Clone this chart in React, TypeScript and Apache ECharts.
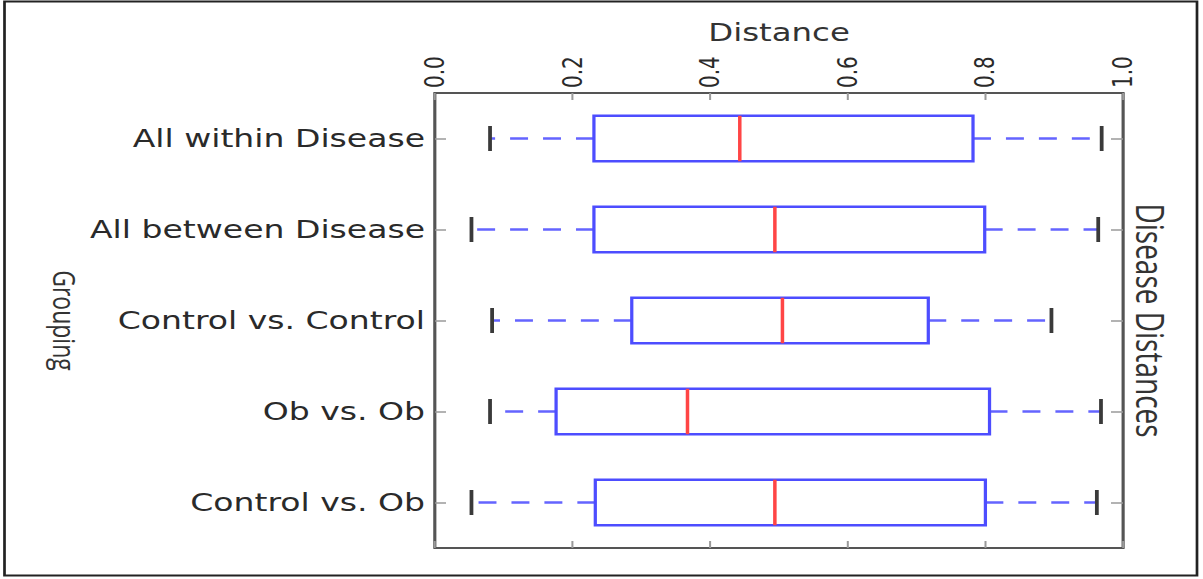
import React, { useEffect, useRef } from "react";
import * as echarts from "echarts";

// ---- data ----
const categories = [
  "All within Disease",
  "All between Disease",
  "Control vs. Control",
  "Ob vs. Ob",
  "Control vs. Ob",
];
const whiskerLow = [0.080, 0.053, 0.083, 0.080, 0.053];
const quartile1 = [0.231, 0.231, 0.286, 0.176, 0.233];
const medians = [0.443, 0.494, 0.505, 0.367, 0.494];
const quartile3 = [0.782, 0.799, 0.717, 0.806, 0.800];
const whiskerHigh = [0.969, 0.964, 0.896, 0.968, 0.962];
const tickLabels = ["0.0", "0.2", "0.4", "0.6", "0.8", "1.0"];

// the reference figure is stretched horizontally
const S = 1.35;
const PAGE_W = 1203;
const PAGE_H = 579;
const W0 = PAGE_W / S;
const px = (x: number) => x / S;

export default function App() {
  const ref = useRef<HTMLDivElement>(null);

  useEffect(() => {
    if (!ref.current) return;
    const chart = echarts.init(ref.current, null, {
      renderer: "svg",
      width: W0,
      height: PAGE_H,
    });

    const data = categories.map((_, i) => [
      i,
      whiskerLow[i],
      quartile1[i],
      medians[i],
      quartile3[i],
      whiskerHigh[i],
    ]);

    const renderItem = (params: any, api: any) => {
      const ci = api.value(0);
      const c = (v: number) => api.coord([v, ci]);
      const band = api.size([0, 1])[1];
      const boxH = band * 0.5;
      const capH = band * 0.275;
      const pLow = c(api.value(1));
      const pQ1 = c(api.value(2));
      const pMed = c(api.value(3));
      const pQ3 = c(api.value(4));
      const pHigh = c(api.value(5));
      const cy = pQ1[1];
      const whiskerStyle = {
        stroke: "#6464ff",
        lineWidth: 2.4,
        lineDash: [13.3, 11.1],
      };
      return {
        type: "group",
        children: [
          {
            type: "line",
            shape: { x1: pQ1[0], y1: cy, x2: pLow[0], y2: cy },
            style: whiskerStyle,
          },
          {
            type: "line",
            shape: { x1: pQ3[0], y1: cy, x2: pHigh[0], y2: cy },
            style: whiskerStyle,
          },
          {
            type: "rect",
            shape: {
              x: pQ1[0],
              y: cy - boxH / 2,
              width: pQ3[0] - pQ1[0],
              height: boxH,
            },
            style: { fill: "none", stroke: "#4d4dff", lineWidth: 2.4 },
          },
          {
            type: "line",
            shape: {
              x1: pMed[0],
              y1: cy - boxH / 2,
              x2: pMed[0],
              y2: cy + boxH / 2,
            },
            style: { stroke: "#ff4545", lineWidth: 2.6 },
          },
          {
            type: "line",
            shape: {
              x1: pLow[0],
              y1: cy - capH / 2,
              x2: pLow[0],
              y2: cy + capH / 2,
            },
            style: { stroke: "#3a3a3a", lineWidth: 2.8 },
          },
          {
            type: "line",
            shape: {
              x1: pHigh[0],
              y1: cy - capH / 2,
              x2: pHigh[0],
              y2: cy + capH / 2,
            },
            style: { stroke: "#3a3a3a", lineWidth: 2.8 },
          },
        ],
      };
    };

    const axisLine = {
      show: true,
      onZero: false,
      lineStyle: { color: "#555", width: 2 },
    };
    const tickStyle = { color: "#9a9a9a", width: 1.5 };

    chart.setOption({
      animation: false,
      grid: {
        show: true,
        borderColor: "#555",
        borderWidth: 2,
        backgroundColor: "transparent",
        left: px(435),
        right: px(PAGE_W - 1123),
        top: 93,
        bottom: 31,
        containLabel: false,
        outerBoundsMode: "none",
      },
      graphic: [
        {
          type: "rect",
          shape: { x: px(4.5), y: 1.5, width: px(1197 - 4.5), height: 574 },
          style: { fill: "none", stroke: "#222", lineWidth: 2 },
          silent: true,
        },
      ],
      xAxis: [
        {
          type: "value",
          position: "top",
          min: 0,
          max: 1,
          interval: 0.2,
          name: "Distance",
          nameLocation: "middle",
          nameGap: 48,
          nameMoveOverlap: false,
          nameTextStyle: {
            fontFamily: "DejaVu Sans",
            fontSize: 24,
            color: "#333",
          },
          axisLine,
          axisTick: { show: true, inside: true, length: 7, lineStyle: tickStyle },
          axisLabel: {
            rotate: -90,
            margin: 5,
            fontFamily: "DejaVu Sans",
            fontSize: 20,
            color: "#2a2a2a",
            formatter: (v: number) => tickLabels[Math.round(v / 0.2)],
          },
          splitLine: { show: false },
        },
        {
          type: "value",
          position: "bottom",
          min: 0,
          max: 1,
          interval: 0.2,
          axisLine,
          axisTick: { show: true, inside: true, length: 7, lineStyle: tickStyle },
          axisLabel: { show: false },
          splitLine: { show: false },
        },
      ],
      yAxis: [
        {
          type: "category",
          data: categories,
          inverse: true,
          position: "left",
          name: "Grouping",
          nameLocation: "middle",
          nameRotate: -90,
          nameGap: px(355),
          nameMoveOverlap: false,
          nameTextStyle: {
            fontFamily: "Open Sans",
            fontSize: 23,
            color: "#333",
          },
          axisLine,
          axisTick: {
            show: true,
            inside: true,
            alignWithLabel: true,
            length: px(11),
            lineStyle: tickStyle,
          },
          axisLabel: {
            margin: px(10),
            fontFamily: "DejaVu Sans",
            fontSize: 24.5,
            color: "#2a2a2a",
          },
          splitLine: { show: false },
        },
        {
          type: "category",
          data: categories,
          inverse: true,
          position: "right",
          name: "Disease Distances",
          nameLocation: "middle",
          nameRotate: -90,
          nameGap: px(9),
          nameMoveOverlap: false,
          nameTextStyle: {
            fontFamily: "Open Sans",
            fontSize: 28,
            color: "#333",
          },
          axisLine,
          axisTick: {
            show: true,
            inside: true,
            alignWithLabel: true,
            length: px(12),
            lineStyle: tickStyle,
          },
          axisLabel: { show: false },
          splitLine: { show: false },
        },
      ],
      series: [
        {
          type: "custom",
          xAxisIndex: 0,
          yAxisIndex: 0,
          renderItem,
          data,
          encode: { x: [1, 2, 3, 4, 5], y: 0 },
        },
      ],
    });

    return () => {
      chart.dispose();
    };
  }, []);

  return (
    <div
      ref={ref}
      style={{
        position: "absolute",
        left: 0,
        top: 0,
        width: W0 + "px",
        height: PAGE_H + "px",
        transform: `scaleX(${S})`,
        transformOrigin: "0 0",
        background: "#fff",
      }}
    />
  );
}
